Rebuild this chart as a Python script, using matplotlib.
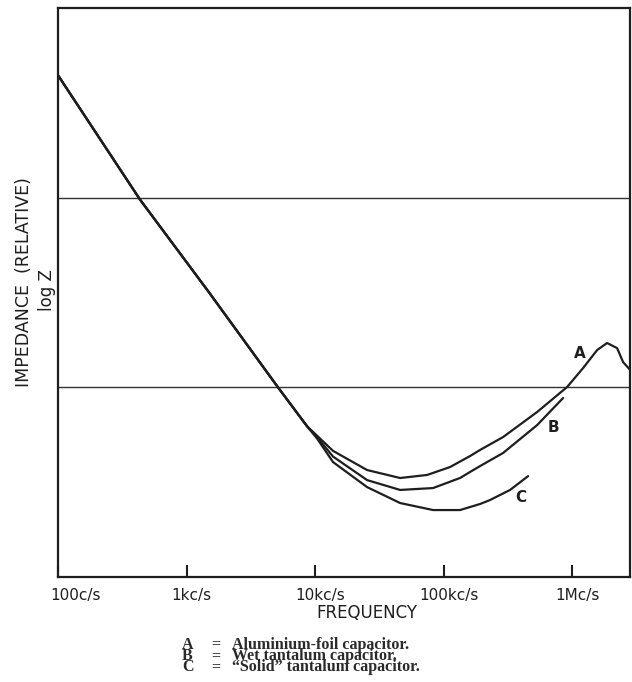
import matplotlib.pyplot as plt
import matplotlib.transforms as mtransforms
import numpy as np

# shared falling part (capacitive region), freq in c/s, log Z relative
common_f = [100, 435, 1500, 5150, 8660]
common_z = [2.646, 1.99, 1.50, 1.00, 0.795]

# curve A - aluminium foil
a_f = [10370, 13800, 25400, 45900, 74400, 112400, 160800, 192300, 290400, 534200,
       914300, 1218000, 1566000, 1872000, 2240000, 2494000, 2931000]
a_z = [0.745, 0.665, 0.564, 0.522, 0.538, 0.580, 0.638, 0.670, 0.738, 0.870,
       1.002, 1.102, 1.197, 1.234, 1.207, 1.133, 1.081]

# curve B - wet tantalum
b_f = [10370, 13800, 25400, 45900, 82800, 134300, 160800, 192300, 290400, 534200, 851000]
b_z = [0.737, 0.635, 0.511, 0.459, 0.469, 0.522, 0.554, 0.585, 0.654, 0.801, 0.944]

# curve C - solid tantalum
c_f = [10370, 13800, 25400, 45900, 82800, 134300, 192300, 230000, 329000, 454700]
c_z = [0.730, 0.606, 0.474, 0.390, 0.353, 0.353, 0.385, 0.406, 0.459, 0.532]

tick_f = [100, 1e3, 1e4, 1e5, 1e6]
tick_labels = ['100c/s', '1kc/s', '10kc/s', '100kc/s', '1Mc/s']
ref_lines = [1.0, 2.0]

cap_keys = ['A', 'B', 'C']
cap_text = ['Aluminium-foil capacitor.',
            'Wet tantalum capacitor.',
            '\u201cSolid\u201d tantalum capacitor.']

ink = '#1e1e1e'

fig = plt.figure(figsize=(6.32, 6.82), dpi=100)
ax = fig.add_axes([0.0918, 0.154, 0.905, 0.834])

for yl in ref_lines:
    ax.axhline(yl, color='#333333', lw=1.0)

for f, z in [(a_f, a_z), (b_f, b_z), (c_f, c_z)]:
    ax.plot(common_f + f, common_z + z, color=ink, lw=1.6,
            solid_capstyle='round', solid_joinstyle='round')

ax.text(1.15e6, 1.18, 'A', fontsize=11, fontweight='bold', color=ink, ha='center', va='center')
ax.text(7.1e5, 0.79, 'B', fontsize=11, fontweight='bold', color=ink, ha='center', va='center')
ax.text(4.0e5, 0.42, 'C', fontsize=11, fontweight='bold', color=ink, ha='center', va='center')

ax.set_xscale('log')
ax.set_xlim(100, 2.82e6)
ax.set_ylim(0, 3)
ax.set_yticks([])
ax.minorticks_off()
ax.set_xticks(tick_f)
ax.set_xticklabels(tick_labels, fontsize=11, color=ink)
ax.tick_params(axis='x', direction='in', length=9, width=1.5, colors=ink, pad=8)
for s in ax.spines.values():
    s.set_linewidth(1.6)
    s.set_color(ink)

# labels in the original sit a little to the right of their ticks
shift = mtransforms.ScaledTranslation(5 / 100, 0, fig.dpi_scale_trans)
for lab in ax.get_xticklabels():
    lab.set_transform(lab.get_transform() + shift)
lab0 = ax.get_xticklabels()[0]
lab0.set_ha('left')
lab0.set_transform(lab0.get_transform() + mtransforms.ScaledTranslation(-13 / 100, 0, fig.dpi_scale_trans))

fig.text(367 / 632, 1 - 613 / 682, 'FREQUENCY', fontsize=12, color=ink, ha='center', va='center')
fig.text(24 / 632, 1 - 282 / 682, 'IMPEDANCE  (RELATIVE)', fontsize=12.5, color=ink,
         rotation=90, ha='center', va='center')
fig.text(47 / 632, 1 - 290 / 682, 'log Z', fontsize=12, color=ink,
         rotation=90, ha='center', va='center')

# caption below the chart, as three column blocks
kw = dict(fontsize=11.5, family='Liberation Serif', fontweight='bold', color='#2a2a2a',
          va='center', ha='left', linespacing=0.62)
yy = 1 - 656 / 682
fig.text(182 / 632, yy, '\n'.join(cap_keys), **kw)
fig.text(211 / 632, yy, '\n'.join(['='] * len(cap_keys)), **kw)
fig.text(232 / 632, yy, '\n'.join(cap_text), **kw)

fig.savefig('out.png', dpi=100)
